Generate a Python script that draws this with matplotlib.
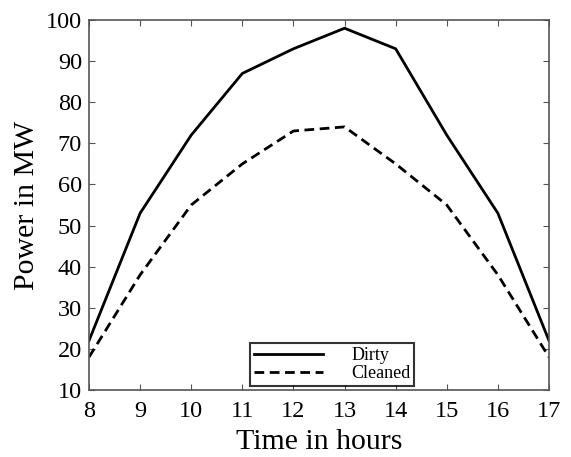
import matplotlib
matplotlib.use("Agg")
import matplotlib.pyplot as plt

hours = [8, 9, 10, 11, 12, 13, 14, 15, 16, 17]
dirty = [22, 53, 72, 87, 93, 98, 93, 72, 53, 22]
cleaned = [18, 38, 55, 65, 73, 74, 65, 55, 38, 18]

plt.rcParams['font.family'] = ['Liberation Serif', 'DejaVu Serif']

fig = plt.figure(figsize=(5.71, 4.57), dpi=100)
ax = fig.add_axes([89/571, 1-390/457, 460/571, 370/457])

ax.plot(hours, dirty, color='black', linewidth=2, linestyle='-', label='Dirty')
ax.plot(hours, cleaned, color='black', linewidth=2, linestyle=(0, (3.5, 2)), label='Cleaned')

ax.set_xlim(8, 17)
ax.set_ylim(10, 100)
ax.set_xticks(hours)
ax.set_yticks(range(10, 101, 10))
ax.tick_params(direction='in', top=True, right=True, labelsize=17.5, length=4,
               color='#555555')
ax.tick_params(axis='x', pad=8)
ax.tick_params(axis='y', pad=5)
for s in ax.spines.values():
    s.set_color('#555555')
    s.set_linewidth(1.2)
ax.set_xlabel('Time in hours', fontsize=21.5, labelpad=5)
ax.set_ylabel('Power in MW', fontsize=21.5, labelpad=4)

leg = ax.legend(loc='lower center', bbox_to_anchor=(0.529, 0.012), fontsize=13,
                frameon=True, fancybox=False, edgecolor='black', handlelength=3.8,
                borderpad=0.2, labelspacing=0.05, handletextpad=1.6, borderaxespad=0)
leg.get_frame().set_linewidth(1.5)

fig.savefig('out.png', dpi=100)
